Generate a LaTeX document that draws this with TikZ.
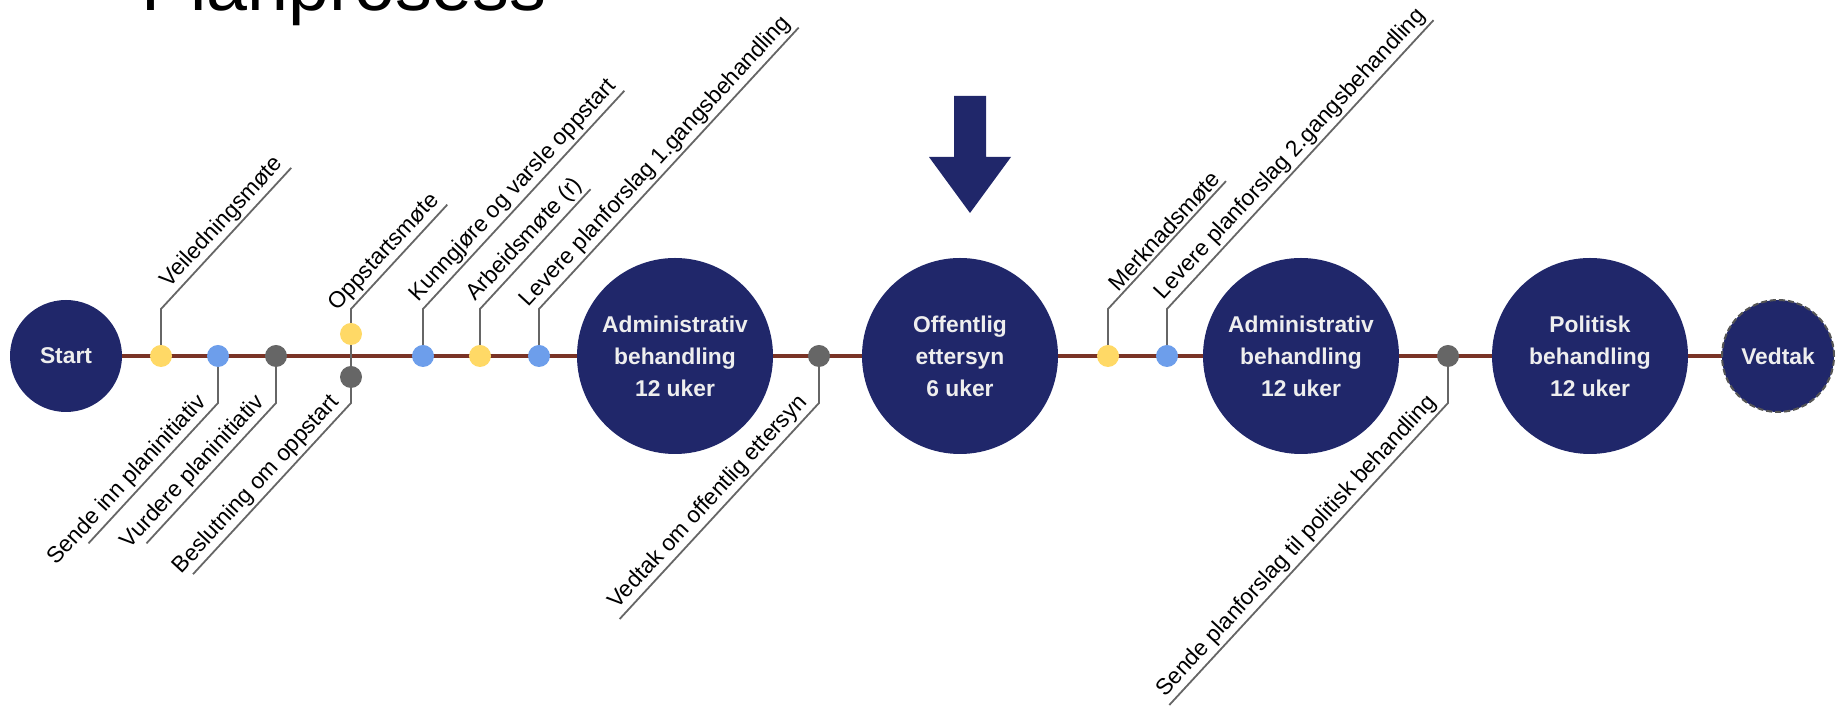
\documentclass[tikz,border=0pt]{standalone}
\usepackage{fontspec}
\setmainfont{Liberation Sans}
\usetikzlibrary{backgrounds}
\definecolor{navy}{HTML}{20276A}
\definecolor{dotyellow}{HTML}{FFD966}
\definecolor{dotblue}{HTML}{6D9EEB}
\definecolor{dotgray}{HTML}{666666}
\definecolor{linebrown}{HTML}{7A3326}
\definecolor{leadgray}{HTML}{666666}
\definecolor{circtext}{HTML}{EEEEEE}
\definecolor{dashgray}{HTML}{555555}
\begin{document}
\begin{tikzpicture}[x=0.5pt,y=0.5pt,
  phase/.style={circle, fill=navy, text=circtext, minimum size=98pt, inner sep=0pt, align=center, font=\fontsize{11.4}{16}\selectfont\bfseries},
  endpt/.style={circle, fill=navy, text=circtext, minimum size=56pt, inner sep=0pt, font=\fontsize{11.4}{16}\selectfont\bfseries},
  mstone/.style={circle, minimum size=11pt, inner sep=0pt},
  ydot/.style={mstone, fill=dotyellow},
  bdot/.style={mstone, fill=dotblue},
  gdot/.style={mstone, fill=dotgray},
  lead/.style={draw=leadgray, line width=0.9pt},
  lbl/.style={rotate=47.3, font=\fontsize{11.4}{14}\selectfont, inner ysep=1.5pt, inner xsep=1pt, anchor=south east},
  lbldown/.style={lbl, inner xsep=3.5pt},
  timeline/.style={draw=linebrown, line width=2pt}
]
\useasboundingbox (0,0) rectangle (1843,706);
\clip (0,0) rectangle (1843,706);

% title
\node[anchor=base west, inner sep=0pt, font=\fontsize{36.8}{44}\selectfont] (title) at (141,695) {Planprosess};

% big circles
\node[endpt] (start) at (66,350) {Start};
\node[phase] (adm1) at (675,350) {Administrativ\\behandling\\12 uker};
\node[phase] (off) at (960,350) {Offentlig\\ettersyn\\6 uker};
\node[phase] (adm2) at (1301,350) {Administrativ\\behandling\\12 uker};
\node[phase] (pol) at (1590,350) {Politisk\\behandling\\12 uker};
\node[endpt, draw=dashgray, line width=1pt, dash pattern=on 3pt off 1.5pt] (vedtak) at (1778,350) {Vedtak};

% milestone dots
\node[ydot] (d1) at (161,350) {};
\node[bdot] (d2) at (218,350) {};
\node[gdot] (d3) at (276,350) {};
\node[ydot] (d4) at (351,372) {};
\node[gdot] (d5) at (351,329) {};
\node[bdot] (d6) at (423,350) {};
\node[ydot] (d7) at (480,350) {};
\node[bdot] (d8) at (539,350) {};
\node[gdot] (d9) at (819,350) {};
\node[ydot] (d10) at (1108,350) {};
\node[bdot] (d11) at (1167,350) {};
\node[gdot] (d12) at (1448,350) {};

% elbows and ends
\coordinate (e1) at (161,397);  \path (e1) ++(47.3:192) coordinate (t1);
\coordinate (e2) at (218,303);  \path (e2) ++(227.3:191) coordinate (t2);
\coordinate (e3) at (276,303);  \path (e3) ++(227.3:191) coordinate (t3);
\coordinate (e4) at (351,397);  \path (e4) ++(47.3:142) coordinate (t4);
\coordinate (e5) at (351,303);  \path (e5) ++(227.3:233) coordinate (t5);
\coordinate (e6) at (423,397);  \path (e6) ++(47.3:297) coordinate (t6);
\coordinate (e7) at (480,397);  \path (e7) ++(47.3:163) coordinate (t7);
\coordinate (e8) at (539,397);  \path (e8) ++(47.3:383) coordinate (t8);
\coordinate (e9) at (819,303);  \path (e9) ++(227.3:294) coordinate (t9);
\coordinate (e10) at (1108,397); \path (e10) ++(47.3:174) coordinate (t10);
\coordinate (e11) at (1167,397); \path (e11) ++(47.3:393) coordinate (t11);
\coordinate (e12) at (1448,303); \path (e12) ++(227.3:411) coordinate (t12);

\begin{scope}[on background layer]
  \draw[timeline] (start.center) -- (vedtak.center);
  \draw[lead] (d1.center) -- (e1) -- (t1);
  \draw[lead] (d2.center) -- (e2) -- (t2);
  \draw[lead] (d3.center) -- (e3) -- (t3);
  \draw[lead] (d4.center) -- (e4) -- (t4);
  \draw[lead] (d4.center) -- (d5.center);
  \draw[lead] (d5.center) -- (e5) -- (t5);
  \draw[lead] (d6.center) -- (e6) -- (t6);
  \draw[lead] (d7.center) -- (e7) -- (t7);
  \draw[lead] (d8.center) -- (e8) -- (t8);
  \draw[lead] (d9.center) -- (e9) -- (t9);
  \draw[lead] (d10.center) -- (e10) -- (t10);
  \draw[lead] (d11.center) -- (e11) -- (t11);
  \draw[lead] (d12.center) -- (e12) -- (t12);
\end{scope}

% labels
\node[lbl] (l1) at (t1) {Veiledningsmøte};
\node[lbldown] (l2) at (e2) {Sende inn planinitiativ};
\node[lbldown] (l3) at (e3) {Vurdere planinitiativ};
\node[lbl] (l4) at (t4) {Oppstartsmøte};
\node[lbldown] (l5) at (e5) {Beslutning om oppstart};
\node[lbl] (l6) at (t6) {Kunngjøre og varsle oppstart};
\node[lbl] (l7) at (t7) {Arbeidsmøte (r)};
\node[lbl] (l8) at (t8) {Levere planforslag 1.gangsbehandling};
\node[lbldown] (l9) at (e9) {Vedtak om offentlig ettersyn};
\node[lbl] (l10) at (t10) {Merknadsmøte};
\node[lbl] (l11) at (t11) {Levere planforslag 2.gangsbehandling};
\node[lbldown] (l12) at (e12) {Sende planforslag til politisk behandling};

% arrow above Offentlig ettersyn
\fill[navy] (954,610) -- (986,610) -- (986,549) -- (1011,549) -- (970,493) -- (929,549) -- (954,549) -- cycle;
\end{tikzpicture}
\end{document}
